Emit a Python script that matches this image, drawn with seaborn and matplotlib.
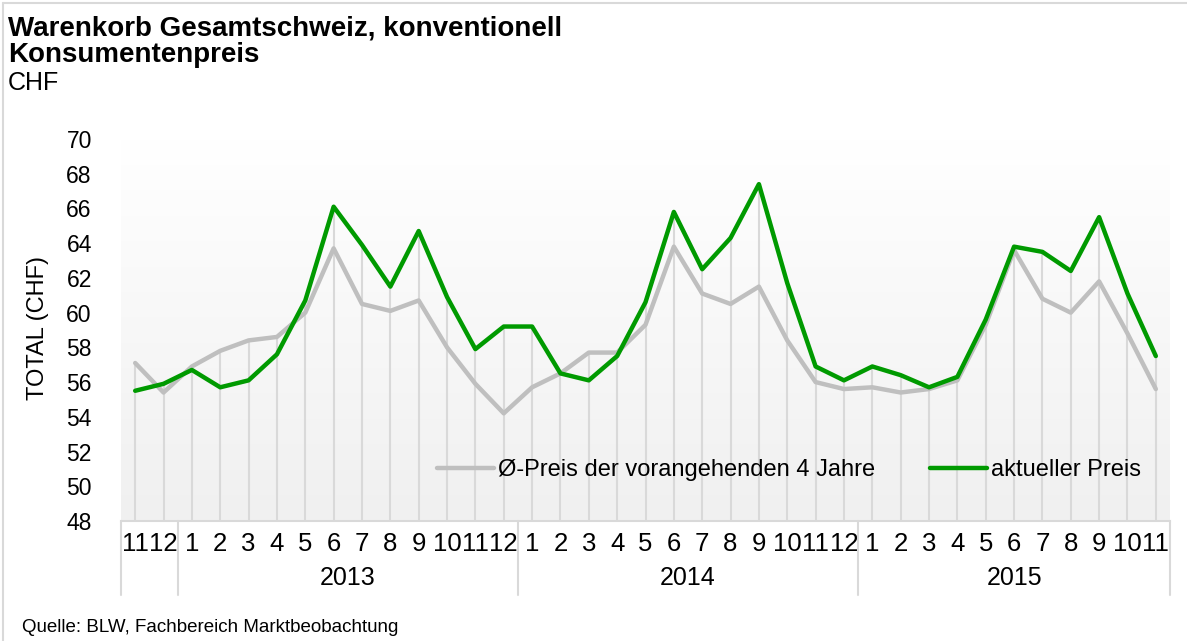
import numpy as np
import pandas as pd
import matplotlib
matplotlib.use("Agg")
import matplotlib.pyplot as plt
import matplotlib.transforms as mtransforms
from matplotlib.lines import Line2D
import seaborn as sns

# data
monate = ["11", "12"] + [str(m) for m in range(1, 13)] + [str(m) for m in range(1, 13)] + [str(m) for m in range(1, 12)]
jahre = ["2012"] * 2 + ["2013"] * 12 + ["2014"] * 12 + ["2015"] * 11
aktuell = [55.5, 55.9,
           56.7, 55.7, 56.1, 57.6, 60.7, 66.1, 63.9, 61.5, 64.7, 60.9, 57.9, 59.2,
           59.2, 56.5, 56.1, 57.5, 60.6, 65.8, 62.5, 64.3, 67.4, 61.7, 56.9, 56.1,
           56.9, 56.4, 55.7, 56.3, 59.6, 63.8, 63.5, 62.4, 65.5, 61.1, 57.5]
mittel4 = [57.1, 55.4,
           56.9, 57.8, 58.4, 58.6, 60.0, 63.7, 60.5, 60.1, 60.7, 58.0, 55.9, 54.2,
           55.7, 56.5, 57.7, 57.7, 59.3, 63.8, 61.1, 60.5, 61.5, 58.4, 56.0, 55.6,
           55.7, 55.4, 55.6, 56.1, 59.3, 63.6, 60.8, 60.0, 61.8, 58.8, 55.6]
yticks = list(range(48, 71, 2))

lbl_mittel = "Ø-Preis der vorangehenden 4 Jahre"
lbl_akt = "aktueller Preis"

df = pd.DataFrame({"idx": np.arange(len(monate)), "monat": monate, "jahr": jahre,
                   "aktuell": aktuell, "mittel": mittel4})

sns.set_theme(style="white")
plt.rcParams["font.family"] = ["Liberation Sans", "DejaVu Sans"]
plt.rcParams["text.color"] = "black"
plt.rcParams["xtick.color"] = "black"
plt.rcParams["ytick.color"] = "black"

fig = plt.figure(figsize=(11.87, 6.41), dpi=100)
ax = fig.add_axes([121 / 1187, 1 - 521 / 641, 1049 / 1187, (521 - 139) / 641])

n = len(df)
ax.set_xlim(-0.5, n - 0.5)
ax.set_ylim(48, 70)

# background gradient of the plot area: white on top, light grey at the bottom
grad = np.linspace(0.0, 1.0, 256).reshape(-1, 1)
cmap = matplotlib.colors.LinearSegmentedColormap.from_list("bg", ["#f0f0f0", "#ffffff"])
ax.imshow(grad, extent=[-0.5, n - 0.5, 48, 70], aspect="auto", cmap=cmap,
          origin="lower", zorder=0, vmin=0, vmax=1)
ax.set_ylim(48, 70)

# drop lines up to the highest series
top = np.maximum(df["aktuell"], df["mittel"])
ax.vlines(df["idx"], 48, top, color="#d9d9d9", lw=1.5, zorder=1)

sns.lineplot(data=df, x="idx", y="mittel", ax=ax, color="#bfbfbf", lw=3.2,
             solid_joinstyle="round", solid_capstyle="round", zorder=3)
sns.lineplot(data=df, x="idx", y="aktuell", ax=ax, color="#009a00", lw=3.2,
             solid_joinstyle="round", solid_capstyle="round", zorder=4)

ax.set_xlabel("")
ax.set_ylabel("")
ax.set_xticks(df["idx"])
ax.set_xticklabels(monate, fontsize=18.5)
ax.set_yticks(yticks)
ax.set_yticklabels([str(v) for v in yticks], fontsize=16.5)
ax.tick_params(axis="x", length=0, pad=8)
ax.tick_params(axis="y", length=0, pad=21)
for s in ["top", "right", "left"]:
    ax.spines[s].set_visible(False)
ax.spines["bottom"].set_color("#d9d9d9")
ax.spines["bottom"].set_linewidth(1.5)
ax.spines["bottom"].set_zorder(2)

# year row of the category axis
trans = mtransforms.blended_transform_factory(ax.transData, ax.transAxes)
for xb in [-0.5, 1.5, 13.5, 25.5, n - 0.5]:
    ax.plot([xb, xb], [0, -0.194], transform=trans, color="#d9d9d9", lw=1.5,
            clip_on=False)
for j in ["2013", "2014", "2015"]:
    sub = df[df["jahr"] == j]
    xc = (sub["idx"].min() + sub["idx"].max()) / 2
    ax.text(xc, -0.149, j, transform=trans, ha="center", va="center", fontsize=18)

leg = ax.legend(handles=[Line2D([], [], color="#bfbfbf", lw=3.2),
                         Line2D([], [], color="#009a00", lw=3.2)],
                labels=[lbl_mittel, lbl_akt], ncol=2, frameon=False,
                loc="center", bbox_to_anchor=(0.637, 0.134), fontsize=17,
                handlelength=2.4, handletextpad=0.2, columnspacing=2.3)

fig.text(38 / 1187, 1 - 328 / 641, "TOTAL (CHF)", rotation=90, ha="center",
         va="center", fontsize=17)

fig.text(8 / 1187, 1 - 35 / 641, "Warenkorb Gesamtschweiz, konventionell",
         fontsize=20, fontweight="bold", va="baseline")
fig.text(8 / 1187, 1 - 62 / 641, "Konsumentenpreis", fontsize=20,
         fontweight="bold", va="baseline")
fig.text(8 / 1187, 1 - 90 / 641, "CHF", fontsize=18, va="baseline")
fig.text(22 / 1187, 1 - 632 / 641, "Quelle: BLW, Fachbereich Marktbeobachtung",
         fontsize=13.5, va="baseline")

# outer frame (top and left edges visible)
fig.add_artist(Line2D([3 / 1187, 1], [1 - 3 / 641, 1 - 3 / 641], color="#d9d9d9",
                      lw=1.5, transform=fig.transFigure))
fig.add_artist(Line2D([3 / 1187, 3 / 1187], [0, 1 - 3 / 641], color="#d9d9d9",
                      lw=1.5, transform=fig.transFigure))

fig.savefig("out.png", dpi=100)
